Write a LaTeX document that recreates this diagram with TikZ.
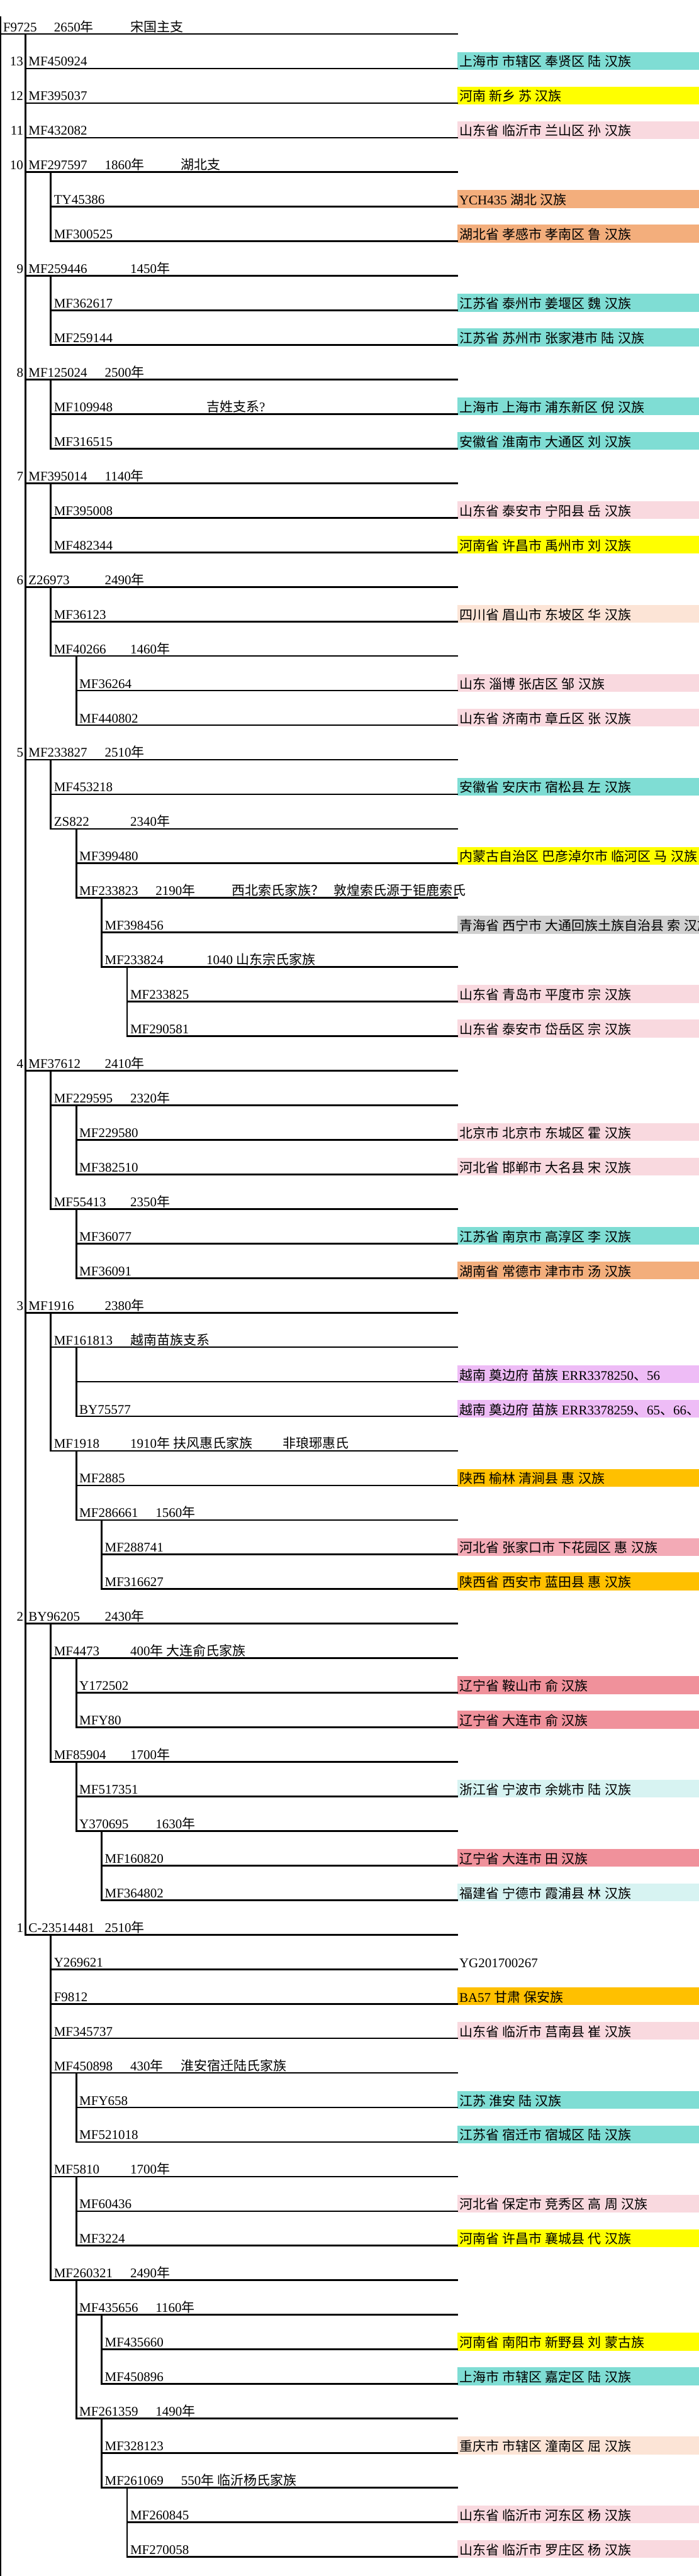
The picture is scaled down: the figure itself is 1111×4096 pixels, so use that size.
\documentclass[tikz,border=0pt]{standalone}
\usepackage{fontspec}
\setmainfont{Liberation Serif}
\newfontfamily\zhfont{Noto Sans CJK SC}

% Chinese characters are set in the CJK font, the rest in the main font
\XeTeXinterchartokenstate=1
\newXeTeXintercharclass\zhclass
\count255="3000
\loop
  \XeTeXcharclass\count255=\zhclass
  \ifnum\count255<"9FFF \advance\count255 by 1 \repeat
\XeTeXcharclass"FF1F=\zhclass
\XeTeXinterchartoks 0 \zhclass = {\zhfont}
\XeTeXinterchartoks 4095 \zhclass = {\zhfont}
\XeTeXinterchartoks \zhclass 0 = {\rmfamily}
\XeTeXinterchartoks \zhclass 4095 = {\rmfamily}

\definecolor{cTeal}{RGB}{127,221,212}
\definecolor{cYellow}{RGB}{255,255,0}
\definecolor{cPink}{RGB}{249,217,223}
\definecolor{cSalmon}{RGB}{243,174,124}
\definecolor{cPeach}{RGB}{252,228,214}
\definecolor{cGrey}{RGB}{208,208,208}
\definecolor{cLilac}{RGB}{238,188,246}
\definecolor{cAmber}{RGB}{255,192,0}
\definecolor{cRose}{RGB}{243,170,182}
\definecolor{cRed}{RGB}{240,145,155}
\definecolor{cCyan}{RGB}{215,243,242}

\begin{document}
\begin{tikzpicture}
[
    x=0.5pt, y=-0.5pt, % one unit is one pixel of the chart, y runs downwards
    % The strategy is to give every row r a line from (R-r) to (E-r)
    % Sample names are N-r, side notes A-r-c, place boxes B-r with texts T-r
]

%=================================== Start ===================================
\tikzstyle{branch} = [line width=1.35pt, line cap=rect]
\tikzstyle{lbl}    = [anchor=base west, inner sep=0pt, outer sep=0pt,
                      font=\fontsize{10.5pt}{12pt}\selectfont]
\tikzstyle{num}    = [lbl, anchor=base east]
\tikzstyle{place}  = [anchor=south west, inner sep=0pt, outer sep=0pt,
                      minimum width=192pt, minimum height=14.15pt]

\useasboundingbox (0,0) rectangle (1111,4096);
\clip (0,0) rectangle (1111,4096);

% Rows: row / level / sample
\foreach \r / \lv / \id in {
    1/0/F9725, 2/1/MF450924, 3/1/MF395037, 4/1/MF432082, 5/1/MF297597,
    6/2/TY45386, 7/2/MF300525, 8/1/MF259446, 9/2/MF362617, 10/2/MF259144,
    11/1/MF125024, 12/2/MF109948, 13/2/MF316515, 14/1/MF395014,
    15/2/MF395008, 16/2/MF482344, 17/1/Z26973, 18/2/MF36123, 19/2/MF40266,
    20/3/MF36264, 21/3/MF440802, 22/1/MF233827, 23/2/MF453218, 24/2/ZS822,
    25/3/MF399480, 26/3/MF233823, 27/4/MF398456, 28/4/MF233824,
    29/5/MF233825, 30/5/MF290581, 31/1/MF37612, 32/2/MF229595,
    33/3/MF229580, 34/3/MF382510, 35/2/MF55413, 36/3/MF36077, 37/3/MF36091,
    38/1/MF1916, 39/2/MF161813, 40/3/{}, 41/3/BY75577, 42/2/MF1918,
    43/3/MF2885, 44/3/MF286661, 45/4/MF288741, 46/4/MF316627, 47/1/BY96205,
    48/2/MF4473, 49/3/Y172502, 50/3/MFY80, 51/2/MF85904, 52/3/MF517351,
    53/3/Y370695, 54/4/MF160820, 55/4/MF364802, 56/1/C-23514481,
    57/2/Y269621, 58/2/F9812, 59/2/MF345737, 60/2/MF450898, 61/3/MFY658,
    62/3/MF521018, 63/2/MF5810, 64/3/MF60436, 65/3/MF3224, 66/2/MF260321,
    67/3/MF435656, 68/4/MF435660, 69/4/MF450896, 70/3/MF261359,
    71/4/MF328123, 72/4/MF261069, 73/5/MF260845, 74/5/MF270058}
{
    \pgfmathsetmacro{\y}{54+(\r-1)*54.95}
    \coordinate (R-\r) at (40.4*\lv, \y);
    \coordinate (E-\r) at (727, \y);
    \node[lbl, xshift=2.5pt, yshift=2pt] (N-\r) at (R-\r) {\id};
}

% Columns for the side notes
\foreach \c in {2,...,13}
    \coordinate (X-\c) at ({5+40.4*\c}, 0);

% Place boxes behind the line ends
\foreach \r / \col / \txt in {
    2/cTeal/{上海市 市辖区 奉贤区 陆 汉族},
    3/cYellow/{河南 新乡 苏 汉族},
    4/cPink/{山东省 临沂市 兰山区 孙 汉族},
    6/cSalmon/{YCH435 湖北 汉族},
    7/cSalmon/{湖北省 孝感市 孝南区 鲁 汉族},
    9/cTeal/{江苏省 泰州市 姜堰区 魏 汉族},
    10/cTeal/{江苏省 苏州市 张家港市 陆 汉族},
    12/cTeal/{上海市 上海市 浦东新区 倪 汉族},
    13/cTeal/{安徽省 淮南市 大通区 刘 汉族},
    15/cPink/{山东省 泰安市 宁阳县 岳 汉族},
    16/cYellow/{河南省 许昌市 禹州市 刘 汉族},
    18/cPeach/{四川省 眉山市 东坡区 华 汉族},
    20/cPink/{山东 淄博 张店区 邹 汉族},
    21/cPink/{山东省 济南市 章丘区 张 汉族},
    23/cTeal/{安徽省 安庆市 宿松县 左 汉族},
    25/cYellow/{内蒙古自治区 巴彦淖尔市 临河区 马 汉族},
    27/cGrey/{青海省 西宁市 大通回族土族自治县 索 汉族},
    29/cPink/{山东省 青岛市 平度市 宗 汉族},
    30/cPink/{山东省 泰安市 岱岳区 宗 汉族},
    33/cPink/{北京市 北京市 东城区 霍 汉族},
    34/cPink/{河北省 邯郸市 大名县 宋 汉族},
    36/cTeal/{江苏省 南京市 高淳区 李 汉族},
    37/cSalmon/{湖南省 常德市 津市市 汤 汉族},
    40/cLilac/{越南 奠边府 苗族 ERR3378250、56},
    41/cLilac/{越南 奠边府 苗族 ERR3378259、65、66、},
    43/cAmber/{陕西 榆林 清涧县 惠 汉族},
    45/cRose/{河北省 张家口市 下花园区 惠 汉族},
    46/cAmber/{陕西省 西安市 蓝田县 惠 汉族},
    49/cRed/{辽宁省 鞍山市 俞 汉族},
    50/cRed/{辽宁省 大连市 俞 汉族},
    52/cCyan/{浙江省 宁波市 余姚市 陆 汉族},
    54/cRed/{辽宁省 大连市 田 汉族},
    55/cCyan/{福建省 宁德市 霞浦县 林 汉族},
    57/white/{YG201700267},
    58/cAmber/{BA57 甘肃 保安族},
    59/cPink/{山东省 临沂市 莒南县 崔 汉族},
    61/cTeal/{江苏 淮安 陆 汉族},
    62/cTeal/{江苏省 宿迁市 宿城区 陆 汉族},
    64/cPink/{河北省 保定市 竞秀区 高 周 汉族},
    65/cYellow/{河南省 许昌市 襄城县 代 汉族},
    68/cYellow/{河南省 南阳市 新野县 刘 蒙古族},
    69/cTeal/{上海市 市辖区 嘉定区 陆 汉族},
    71/cPeach/{重庆市 市辖区 潼南区 屈 汉族},
    73/cPink/{山东省 临沂市 河东区 杨 汉族},
    74/cPink/{山东省 临沂市 罗庄区 杨 汉族}}
{
    \node[place, fill=\col, yshift=-1pt] (B-\r) at (E-\r) {};
    \node[lbl, xshift=1.5pt, yshift=1.5pt] (T-\r) at (E-\r) {\txt};
}

% Root line on the left edge
\coordinate (root-top) at (1,27);
\coordinate (root-bot) at (1,4096);
\draw[branch, line width=1pt] (root-top) -- (root-bot);

% Horizontal lines
\foreach \r in {1,...,74}
    \draw[branch] (R-\r) -- (E-\r);

% Vertical connectors: parent row / last child row
\foreach \p / \q in {1/56, 5/7, 8/10, 11/13, 14/16, 17/19, 19/21, 22/24,
                     24/26, 26/28, 28/30, 31/35, 32/34, 35/37, 38/42, 39/41,
                     42/44, 44/46, 47/51, 48/50, 51/53, 53/55, 56/66, 60/62,
                     63/65, 66/70, 67/69, 70/72, 72/74}
    \draw[branch] (R-\q |- R-\p) -- (R-\q);

% Branch numbers
\foreach \r / \k in {2/13, 3/12, 4/11, 5/10, 8/9, 11/8, 14/7, 17/6, 22/5,
                     31/4, 38/3, 47/2, 56/1}
    \node[num, xshift=-1.7pt, yshift=2pt] (K-\r) at (R-\r) {\k};

% Side notes: row / column / text
\foreach \r / \c / \txt in {
    1/2/{2650年}, 1/5/{宋国主支}, 5/4/{1860年}, 5/7/{湖北支},
    8/5/{1450年}, 11/4/{2500年}, 12/8/{吉姓支系?}, 14/4/{1140年},
    17/4/{2490年}, 19/5/{1460年}, 22/4/{2510年}, 24/5/{2340年},
    26/6/{2190年}, 26/9/{西北索氏家族？}, 26/13/{敦煌索氏源于钜鹿索氏},
    28/8/{1040 山东宗氏家族}, 31/4/{2410年}, 32/5/{2320年}, 35/5/{2350年},
    38/4/{2380年}, 39/5/{越南苗族支系}, 42/5/{1910年 扶风惠氏家族},
    42/11/{非琅琊惠氏}, 44/6/{1560年}, 47/4/{2430年},
    48/5/{400年 大连俞氏家族}, 51/5/{1700年}, 53/6/{1630年},
    56/4/{2510年}, 60/5/{430年}, 60/7/{淮安宿迁陆氏家族}, 63/5/{1700年},
    66/5/{2490年}, 67/6/{1160年}, 70/6/{1490年},
    72/7/{550年 临沂杨氏家族}}
    \node[lbl, yshift=2pt] (A-\r-\c) at (R-\r -| X-\c) {\txt};
%==================================== END ====================================

\end{tikzpicture}
\end{document}
